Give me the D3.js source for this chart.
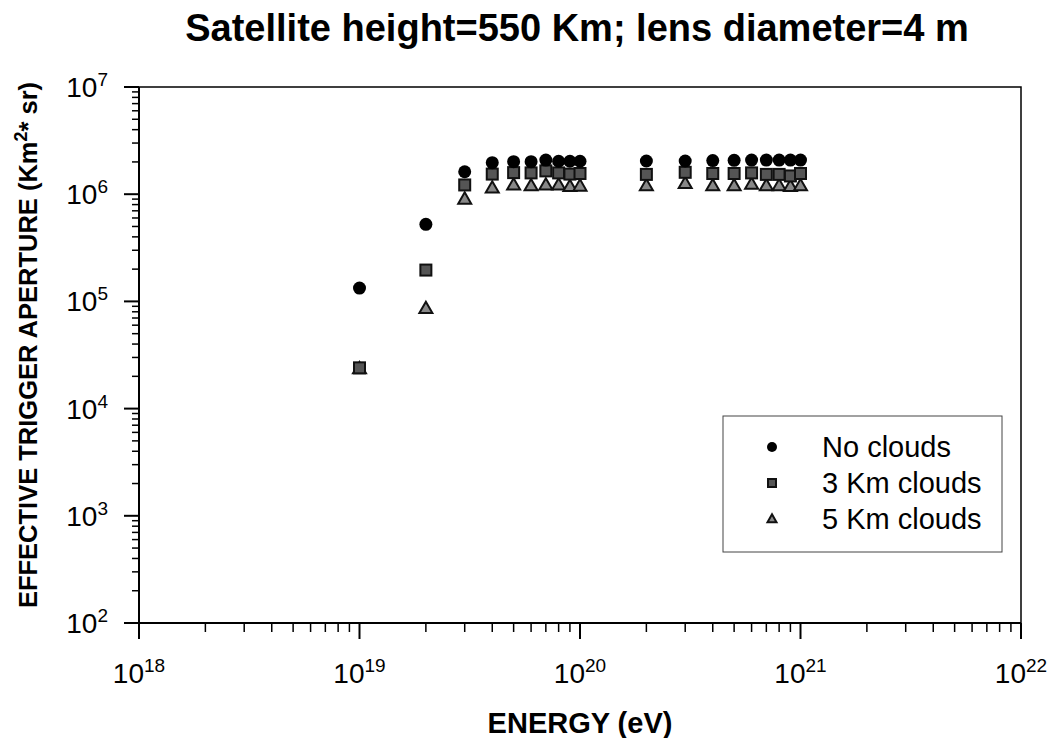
<!DOCTYPE html>
<html>
<head>
<meta charset="utf-8">
<script src="https://cdn.jsdelivr.net/npm/d3@7"></script>
<style>
  body { margin: 0; background: #fff; }
  text { font-family: Arial, "Liberation Sans", sans-serif; }
</style>
</head>
<body>
<div id="plot"></div>
<script>
// energies in eV
var energy = [1e19, 2e19, 3e19, 4e19, 5e19, 6e19, 7e19, 8e19, 9e19, 1e20,
              2e20, 3e20, 4e20, 5e20, 6e20, 7e20, 8e20, 9e20, 1e21];

var noClouds = [1.33e5, 5.24e5, 1.62e6, 1.97e6, 2.01e6, 2.01e6, 2.08e6, 2.03e6, 2.03e6, 2.03e6,
                2.04e6, 2.04e6, 2.06e6, 2.07e6, 2.08e6, 2.08e6, 2.08e6, 2.08e6, 2.08e6];
var clouds3 = [2.4e4, 1.96e5, 1.22e6, 1.54e6, 1.59e6, 1.58e6, 1.65e6, 1.58e6, 1.54e6, 1.56e6,
               1.53e6, 1.60e6, 1.56e6, 1.56e6, 1.58e6, 1.53e6, 1.53e6, 1.48e6, 1.56e6];
var clouds5 = [2.35e4, 8.6e4, 9.0e5, 1.14e6, 1.22e6, 1.20e6, 1.22e6, 1.22e6, 1.18e6, 1.19e6,
               1.20e6, 1.26e6, 1.20e6, 1.20e6, 1.24e6, 1.20e6, 1.20e6, 1.18e6, 1.20e6];

var seriesNames = ["No clouds", "3 Km clouds", "5 Km clouds"];
var xTickExp = [18, 19, 20, 21, 22];
var yTickExp = [2, 3, 4, 5, 6, 7];

var margin = {top: 87, right: 31, bottom: 115, left: 139},
    width = 1052 - margin.left - margin.right,
    height = 738 - margin.top - margin.bottom;

var root = d3.select("#plot")
  .append("svg")
    .attr("width", 1052)
    .attr("height", 738);

var svg = root.append("g")
    .attr("transform", "translate(" + margin.left + "," + margin.top + ")");

var x = d3.scaleLog().domain([1e18, 1e22]).range([0, width]);
var y = d3.scaleLog().domain([1e2, 1e7]).range([height, 0]);

// frame (top and right)
svg.append("path")
  .attr("d", "M0,0H" + width + "V" + height)
  .attr("fill", "none")
  .attr("stroke", "#000")
  .attr("stroke-width", 1.5);

// minor ticks
var xMinor = [], yMinor = [];
for (var e = 18; e < 22; e++) for (var m = 2; m <= 9; m++) xMinor.push(m * Math.pow(10, e));
for (var e2 = 2; e2 < 7; e2++) for (var m2 = 2; m2 <= 9; m2++) yMinor.push(m2 * Math.pow(10, e2));

var xAxis = svg.append("g").attr("transform", "translate(0," + height + ")");
xAxis.append("line").attr("x1", 0).attr("x2", width).attr("stroke", "#000").attr("stroke-width", 2);
xAxis.selectAll(".minor").data(xMinor).enter().append("line")
  .attr("x1", function(d) { return x(d); }).attr("x2", function(d) { return x(d); })
  .attr("y1", 0).attr("y2", 9).attr("stroke", "#000").attr("stroke-width", 1.5);
xAxis.selectAll(".major").data(xTickExp).enter().append("line")
  .attr("x1", function(d) { return x(Math.pow(10, d)); }).attr("x2", function(d) { return x(Math.pow(10, d)); })
  .attr("y1", 0).attr("y2", 16).attr("stroke", "#000").attr("stroke-width", 2);
var xl = xAxis.selectAll(".lab").data(xTickExp).enter().append("text")
  .attr("x", function(d) { return x(Math.pow(10, d)); })
  .attr("y", 60)
  .attr("text-anchor", "middle")
  .style("font-size", "28px");
xl.append("tspan").text("10");
xl.append("tspan").attr("dy", -11).style("font-size", "19px").text(function(d) { return d; });

var yAxis = svg.append("g");
yAxis.append("line").attr("y1", 0).attr("y2", height).attr("stroke", "#000").attr("stroke-width", 2);
yAxis.selectAll(".minor").data(yMinor).enter().append("line")
  .attr("y1", function(d) { return y(d); }).attr("y2", function(d) { return y(d); })
  .attr("x1", 0).attr("x2", -7).attr("stroke", "#000").attr("stroke-width", 1.5);
yAxis.selectAll(".major").data(yTickExp).enter().append("line")
  .attr("y1", function(d) { return y(Math.pow(10, d)); }).attr("y2", function(d) { return y(Math.pow(10, d)); })
  .attr("x1", 0).attr("x2", -15).attr("stroke", "#000").attr("stroke-width", 2);
var yl = yAxis.selectAll(".lab").data(yTickExp).enter().append("text")
  .attr("x", -31)
  .attr("y", function(d) { return y(Math.pow(10, d)) + 10; })
  .attr("text-anchor", "end")
  .style("font-size", "28px");
yl.append("tspan").text("10");
yl.append("tspan").attr("dy", -11).style("font-size", "19px").text(function(d) { return d; });

// titles
root.append("text")
  .attr("x", 577).attr("y", 41)
  .attr("text-anchor", "middle")
  .style("font-size", "38px").style("font-weight", "bold")
  .text("Satellite height=550 Km; lens diameter=4 m");

root.append("text")
  .attr("x", 580).attr("y", 733)
  .attr("text-anchor", "middle")
  .style("font-size", "29px").style("font-weight", "bold")
  .text("ENERGY (eV)");

var yt = root.append("text")
  .attr("transform", "translate(37,345) rotate(-90)")
  .attr("text-anchor", "middle")
  .style("font-size", "25.5px").style("font-weight", "bold");
yt.append("tspan").text("EFFECTIVE TRIGGER APERTURE (Km");
yt.append("tspan").attr("dy", -10).style("font-size", "18px").text("2");
yt.append("tspan").attr("dy", 10).text("* sr)");

// markers
function circle(sel, r) {
  sel.append("circle").attr("r", r).attr("fill", "#000");
}
function square(sel, s) {
  sel.append("rect").attr("x", -s / 2).attr("y", -s / 2).attr("width", s).attr("height", s)
    .attr("fill", "#555").attr("stroke", "#111").attr("stroke-width", 2);
}
function triangle(sel, s) {
  var h = s * 0.87;
  sel.append("path")
    .attr("d", "M0," + (-h * 0.6) + "L" + (s / 2) + "," + (h * 0.4) + "L" + (-s / 2) + "," + (h * 0.4) + "Z")
    .attr("fill", "#888").attr("stroke", "#111").attr("stroke-width", 2);
}

var series = [
  {name: seriesNames[0], values: noClouds, draw: circle, size: 6.5, lsize: 5},
  {name: seriesNames[1], values: clouds3, draw: square, size: 11, lsize: 8},
  {name: seriesNames[2], values: clouds5, draw: triangle, size: 13, lsize: 9}
];

series.slice().reverse().forEach(function(s) {
  svg.append("g").selectAll("g")
    .data(energy.map(function(e, i) { return [e, s.values[i]]; }))
    .enter().append("g")
      .attr("transform", function(d) { return "translate(" + x(d[0]) + "," + y(d[1]) + ")"; })
      .each(function() { s.draw(d3.select(this), s.size); });
});

// legend
var legend = root.append("g").attr("transform", "translate(723,416)");
legend.append("rect").attr("width", 279).attr("height", 136)
  .attr("fill", "#fff").attr("stroke", "#444").attr("stroke-width", 1);
series.forEach(function(s, i) {
  var g = legend.append("g").attr("transform", "translate(49," + (31 + i * 36) + ")");
  s.draw(g, s.lsize);
  g.append("text").attr("x", 50).attr("y", 10).style("font-size", "29px").text(s.name);
});
</script>
</body>
</html>
